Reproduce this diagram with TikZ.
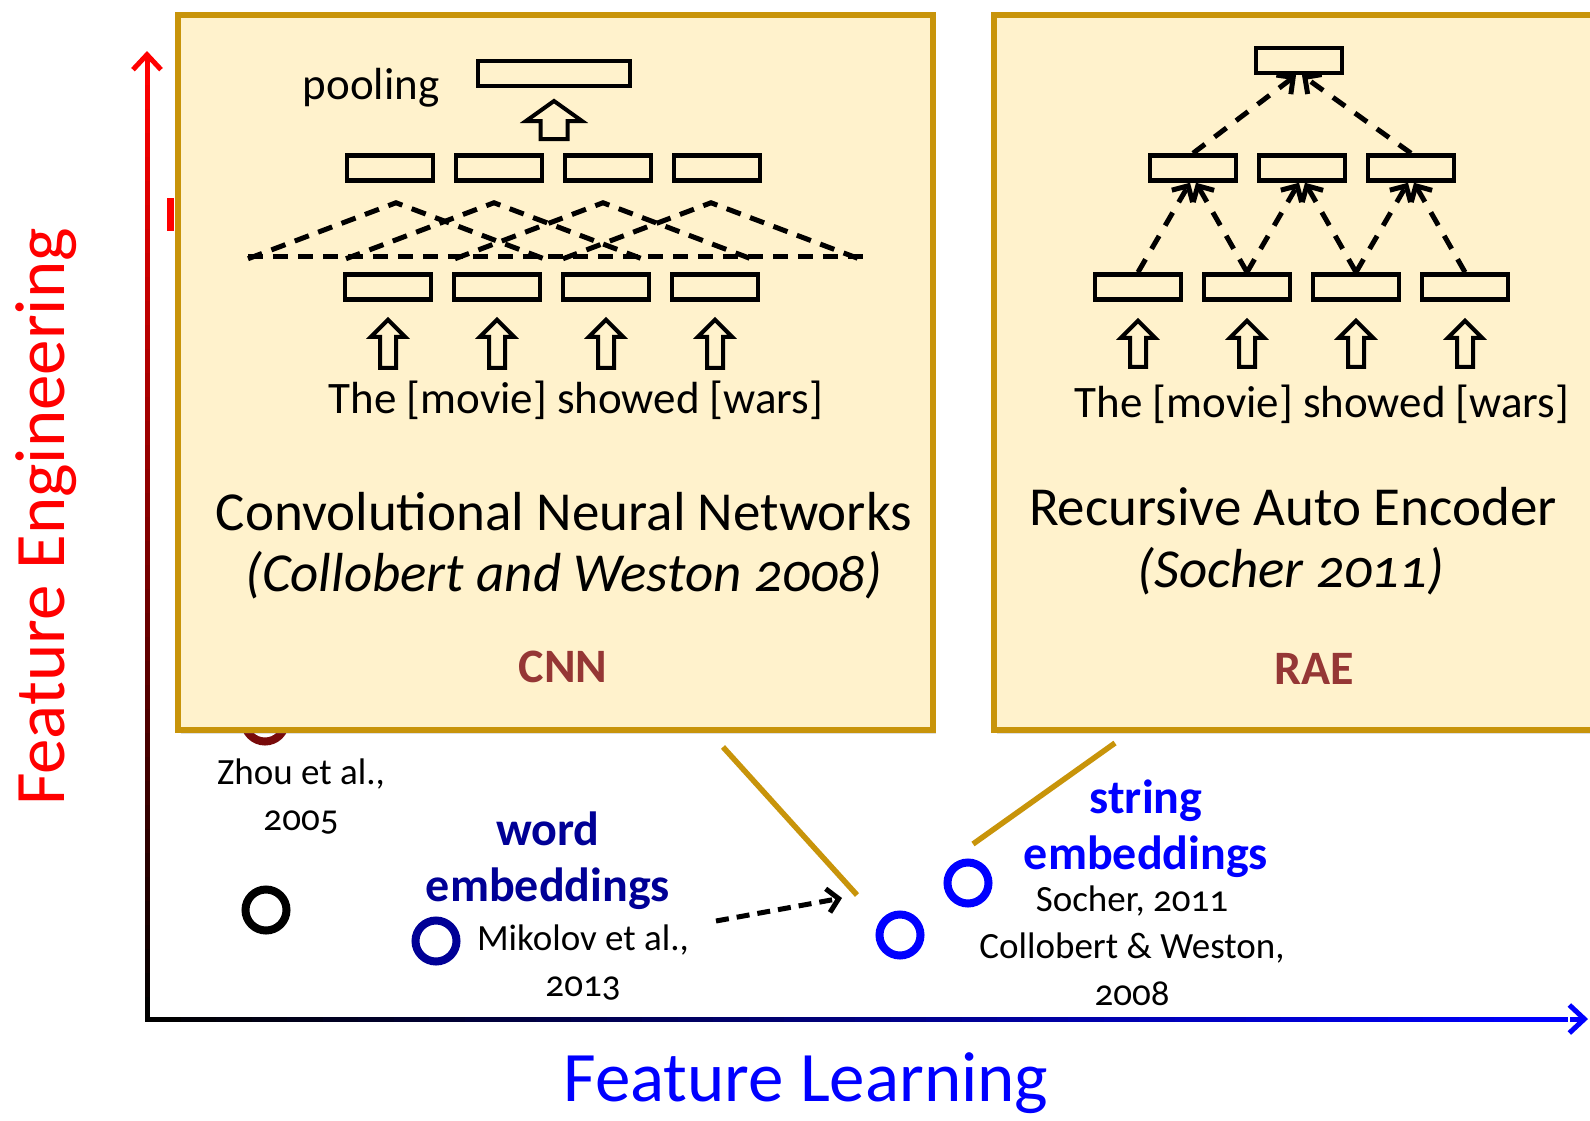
\documentclass[tikz,border=0pt]{standalone}
\usepackage{fontspec}
\setmainfont{Carlito}[Numbers=OldStyle]
\usetikzlibrary{positioning,arrows.meta,shadows,calc}

\definecolor{panelfill}{RGB}{255,242,204}
\definecolor{panelline}{RGB}{200,148,10}
\definecolor{tagred}{RGB}{149,55,53}
\definecolor{wordblue}{RGB}{0,0,150}
\definecolor{zhoured}{RGB}{120,10,10}
\newcommand{\fsz}[2]{\fontsize{#1}{#2}\selectfont}

\begin{document}
\begin{tikzpicture}[
  x=1pt, y=-1pt,
  node distance=18.5pt,
  panel/.style={draw=panelline, fill=panelfill, line width=5.5pt, inner sep=0, anchor=north west,
    drop shadow={shadow xshift=3pt, shadow yshift=-4pt, opacity=.25}},
  cell/.style={draw, line width=4.5pt, minimum width=86, minimum height=25, inner sep=0},
  dsh/.style={line width=5pt, dash pattern=on 15pt off 10pt},
  rarr/.style={line width=5pt, dash pattern=on 15pt off 12pt, -{Straight Barb[length=12pt,width=24pt]}},
  darr/.style={line width=5pt, dash pattern=on 13pt off 8pt, -{Straight Barb[length=11pt,width=24pt]}},
  hol/.style={draw, fill=panelfill, line width=4pt, line join=miter},
  dot/.style={circle, draw, line width=8pt, minimum size=41, inner sep=0},
  lbl/.style={font=\fsz{37}{46}, align=center, inner sep=0},
  wrd/.style={font=\fsz{45}{50}, inner sep=0},
  tag/.style={font=\fsz{48}{56}\bfseries, align=center, inner sep=0},
  ttl/.style={font=\fsz{55}{64}, inner sep=0},
  axis/.style={line width=5pt},
  gline/.style={draw=panelline, line width=5.5pt},
  pics/hollow/.style n args={4}{code={
    \draw[hol] (0,0) -- (#1,#2) -- (#3,#2) -- (#3,#4) -- (-#3,#4) -- (-#3,#2) -- (-#1,#2) -- cycle;}}
]
\fill[white] (0,0) rectangle (1590,1120);
\useasboundingbox (0,0) rectangle (1590,1120);

% axes, red->black and black->blue
\foreach \i in {0,...,39}{
  \pgfmathsetmacro{\pct}{100*\i/39}
  \draw[axis, red!\pct!black] (147,{1021-24*\i}) -- (147,{1019-24*(\i+1)-1});
  \draw[axis, blue!\pct!black] ({145+35.5*\i},1019) -- ({147+35.5*(\i+1)+1},1019);
}
\draw[axis, red, -{Straight Barb[length=15pt,width=28pt]}] (147,70) -- (147,51);
\draw[axis, blue, -{Straight Barb[length=15pt,width=28pt]}] (1570,1019) -- (1588,1019);
\node[font=\fsz{71}{80}, text=red, rotate=90, inner sep=0] (fe) at (46,517) {Feature Engineering};
\node[font=\fsz{71}{80}, text=blue, inner sep=0] (fl) at (806,1083) {Feature Learning};

% things under the panels
\fill[red] (167,198) rectangle (174,231);
\node[dot, draw=zhoured] (zhou) at (265,721) {};

% panels
\node[panel, minimum width=755, minimum height=715] (cnn) at (175,12) {};
\node[panel, minimum width=700, minimum height=715] (rae) at (991,12) {};

% CNN
\node[wrd, anchor=base] (pooltxt) at (371,99) {pooling};
\node[cell, minimum width=152] (pl) at (554,73.5) {};
\pic at (554,101) {hollow={28}{20}{13.5}{38}};
\node[cell] (t1) at (390,168) {};
\node[cell, right=of t1] (t2) {};
\node[cell, right=of t2] (t3) {};
\node[cell, right=of t3] (t4) {};
\node[cell] (b1) at (388,287) {};
\node[cell, right=of b1] (b2) {};
\node[cell, right=of b2] (b3) {};
\node[cell, right=of b3] (b4) {};
\draw[dsh] (248,256) -- (864,256);
\foreach \i/\dx in {1/6,2/-5,3/-5,4/-6}{
  \draw[dsh] ($(t\i.south)+(\dx-148,76)$) -- ($(t\i.south)+(\dx,20)$) -- ($(t\i.south)+(\dx+148,76)$);
  \pic at ($(b\i.south)+(0,18)$) {hollow={17}{17}{8}{48}};
}
\node[wrd] (sent1) at (576,400) {The [movie] showed [wars]};
\node[ttl] (cnnname) at (564,512) {Convolutional Neural Networks};
\node[ttl, font=\fsz{55}{64}\itshape] (cnnref) at (564,575) {(Collobert and Weston 2008)};
\node[tag, text=tagred] (cnntag) at (563,667) {CNN};

% RAE
\node[cell] (r0) at (1299,60.5) {};
\node[cell] (m1) at (1193,168) {};
\node[cell, right=of m1] (m2) {};
\node[cell, right=of m2] (m3) {};
\node[cell] (l1) at (1138,287) {};
\node[cell, right=of l1] (l2) {};
\node[cell, right=of l2] (l3) {};
\node[cell, right=of l3] (l4) {};
\draw[rarr] (l1.north) -- ($(m1.south)+(-3,0)$);
\draw[rarr] (l2.north) -- ($(m1.south)+(3,0)$);
\draw[rarr] (l2.north) -- ($(m2.south)+(-3,0)$);
\draw[rarr] (l3.north) -- ($(m2.south)+(3,0)$);
\draw[rarr] (l3.north) -- ($(m3.south)+(-3,0)$);
\draw[rarr] (l4.north) -- ($(m3.south)+(3,0)$);
\draw[rarr] (m1.north) -- ($(r0.south)+(-3,0)$);
\draw[rarr] (m3.north) -- ($(r0.south)+(3,0)$);
\foreach \i in {1,...,4}
  \pic at ($(l\i.south)+(0,19)$) {hollow={17}{17}{8}{46}};
\node[wrd] (sent2) at (1322,404) {The [movie] showed [wars]};
\node[ttl] (raename) at (1293,507) {Recursive Auto Encoder};
\node[ttl, font=\fsz{55}{64}\itshape] (raeref) at (1291,571) {(Socher 2011)};
\node[tag, text=tagred] (raetag) at (1314,669) {RAE};

% points in the plane
\node[lbl] (zlab) at (301,797) {Zhou et al.,\\2005};
\node[dot, draw=black] (old) at (266,910) {};
\node[dot, draw=wordblue] (wcirc) at (436,941) {};
\node[tag, text=wordblue] (wlab) at (548,861) {word\\embeddings};
\node[lbl] (mlab) at (583,963) {Mikolov et al.,\\2013};
\coordinate (ws) at (716,921);
\coordinate (we) at (842,898);
\draw[darr] (ws) -- (we);
\node[dot, draw=blue] (sc1) at (900,935) {};
\node[dot, draw=blue] (sc2) at (968,883) {};
\coordinate (g1) at (723,747);
\coordinate (g2) at (857,895);
\coordinate (g3) at (1115,743);
\coordinate (g4) at (973,844);
\draw[gline] (g1) -- (g2);
\draw[gline] (g3) -- (g4);
\node[tag, text=blue] (slab) at (1146,829) {string\\embeddings};
\node[lbl, font=\fsz{37}{47}] (slab2) at (1132,946) {Socher, 2011\\Collobert \& Weston,\\2008};
\end{tikzpicture}
\end{document}
